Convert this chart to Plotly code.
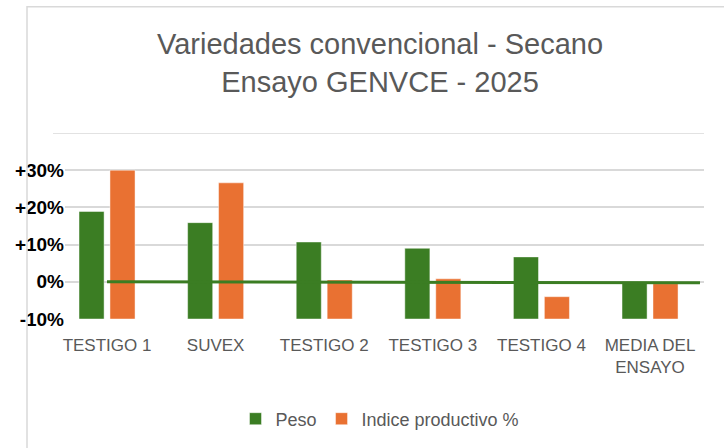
import plotly.graph_objects as go

categories = ["TESTIGO 1", "SUVEX", "TESTIGO 2", "TESTIGO 3", "TESTIGO 4", "MEDIA DEL<br>ENSAYO"]
peso = [18.9, 15.9, 10.7, 9.0, 6.7, 0.0]
indice = [30.0, 26.6, 0.5, 0.8, -4.0, -0.5]
tick_vals = [-10, 0, 10, 20, 30, 40]
tick_text = ["-10%", "0%", "+10%", "+20%", "+30%", ""]
ref_line_x = [0, 5.46]
ref_line_y = [0.0, -0.25]
axis_floor = -10

GREEN = "#3B7D23"
ORANGE = "#E97132"
GREY_TXT = "#595959"
GRID = "#D9D9D9"

W, H = 724, 448
L, R, T, B = 65, 20, 133, 129
pw, ph = W - L - R, H - T - B

def px_x(x):
    return (x - L) / pw

def px_y(y):
    return (H - B - y) / ph

fig = go.Figure()
fig.add_trace(go.Bar(
    name="Peso", x=categories, y=[v - axis_floor for v in peso], base=axis_floor,
    marker=dict(color=GREEN, line=dict(color="rgba(255,255,255,0.45)", width=1)),
))
fig.add_trace(go.Bar(
    name="Indice productivo %", x=categories, y=[v - axis_floor for v in indice], base=axis_floor,
    marker=dict(color=ORANGE, line=dict(color="rgba(255,255,255,0.45)", width=1)),
))

shapes = [
    # chart border
    dict(type="rect", xref="paper", yref="paper", x0=px_x(27), x1=px_x(735),
         y0=px_y(460), y1=px_y(6.7), line=dict(color=GRID, width=1.5),
         fillcolor="rgba(0,0,0,0)", layer="above"),
    # top gridline (unlabelled +40%)
    dict(type="line", xref="paper", yref="y", x0=px_x(53), x1=1, y0=tick_vals[-1], y1=tick_vals[-1],
         line=dict(color=GRID, width=1.5), layer="above"),
    # reference line
    dict(type="line", xref="x", yref="y", x0=ref_line_x[0], x1=ref_line_x[1],
         y0=ref_line_y[0], y1=ref_line_y[1], line=dict(color=GREEN, width=3), layer="above"),
]

fig.update_layout(
    width=W, height=H,
    margin=dict(l=L, r=R, t=T, b=B, autoexpand=False),
    paper_bgcolor="white", plot_bgcolor="white",
    barmode="group", bargap=0.43, bargroupgap=0.19,
    title=dict(
        text="Variedades convencional - Secano<br>Ensayo GENVCE - 2025",
        xref="container", x=380 / W, xanchor="center",
        yref="container", y=1 - 54 / H, yanchor="top",
        font=dict(family="Liberation Sans, Arial, sans-serif", size=29, color=GREY_TXT),
    ),
    legend=dict(
        orientation="h", x=px_x(380), xanchor="center", y=px_y(419), yanchor="middle",
        font=dict(family="Liberation Sans, Arial, sans-serif", size=18, color=GREY_TXT),
        bgcolor="rgba(0,0,0,0)",
    ),
    xaxis=dict(
        type="category", range=[-0.387, 5.497], showgrid=False, showline=False, zeroline=False,
        ticks="", tickfont=dict(family="Liberation Sans, Arial, sans-serif", size=17, color=GREY_TXT),
        ticklabelstandoff=14,
    ),
    yaxis=dict(
        range=[-10, 40], tickvals=tick_vals, ticktext=tick_text,
        showgrid=True, gridcolor=GRID, gridwidth=1.5, zeroline=False, showline=False, ticks="",
        tickfont=dict(family="Liberation Sans, Arial, sans-serif", size=19, color="black", weight="bold"),
    ),
    shapes=shapes,
    showlegend=True,
)

fig.write_html("out.html", config={"displayModeBar": False},
               post_script="document.body.style.margin='0';")
